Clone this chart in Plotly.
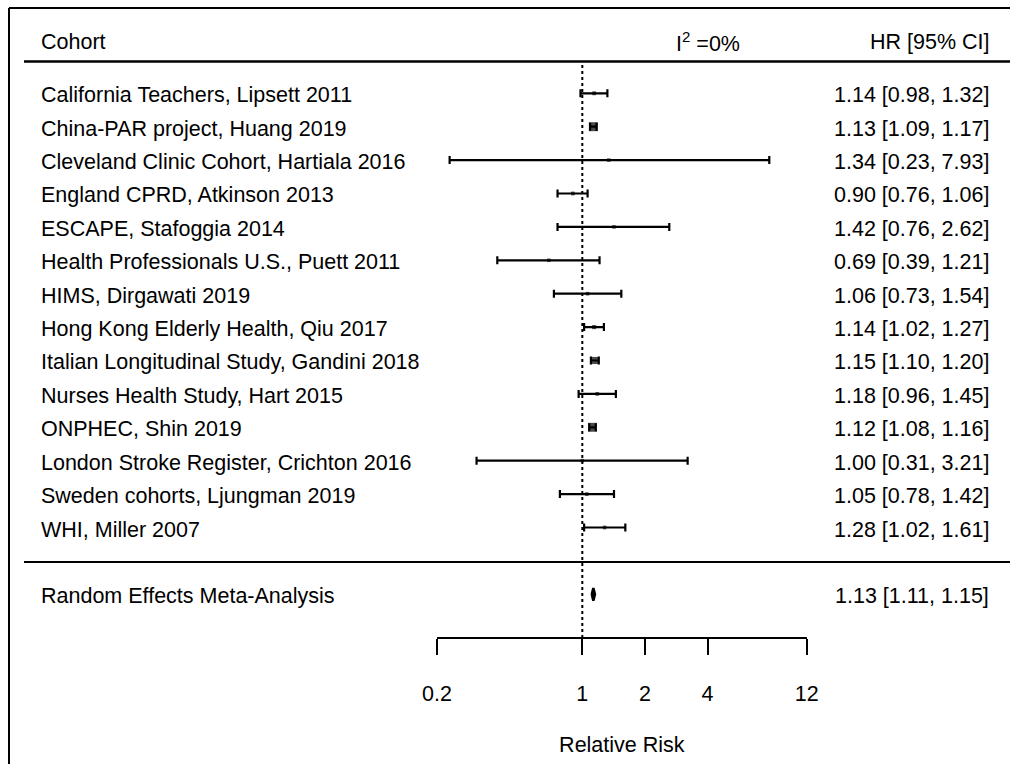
import plotly.graph_objects as go
import numpy as np

cohorts = [
    "California Teachers, Lipsett 2011",
    "China-PAR project, Huang 2019",
    "Cleveland Clinic Cohort, Hartiala 2016",
    "England CPRD, Atkinson 2013",
    "ESCAPE, Stafoggia 2014",
    "Health Professionals U.S., Puett 2011",
    "HIMS, Dirgawati 2019",
    "Hong Kong Elderly Health, Qiu 2017",
    "Italian Longitudinal Study, Gandini 2018",
    "Nurses Health Study, Hart 2015",
    "ONPHEC, Shin 2019",
    "London Stroke Register, Crichton 2016",
    "Sweden cohorts, Ljungman 2019",
    "WHI, Miller 2007",
]
hr = [1.14, 1.13, 1.34, 0.90, 1.42, 0.69, 1.06, 1.14, 1.15, 1.18, 1.12, 1.00, 1.05, 1.28]
lo = [0.98, 1.09, 0.23, 0.76, 0.76, 0.39, 0.73, 1.02, 1.10, 0.96, 1.08, 0.31, 0.78, 1.02]
hi = [1.32, 1.17, 7.93, 1.06, 2.62, 1.21, 1.54, 1.27, 1.20, 1.45, 1.16, 3.21, 1.42, 1.61]
pooled_label = "Random Effects Meta-Analysis"
pooled = [1.13, 1.11, 1.15]
i2_text = "I<sup>2</sup> =0%"
tick_vals = [0.2, 1, 2, 4, 12]
tick_text = ["0.2", "1", "2", "4", "12"]

W, H = 1010, 764
FONT = "Liberation Sans, Arial, sans-serif"
FS = 21.5

n = len(cohorts)
rows = list(range(n + 2, 2, -1))  # 16 .. 3
pooled_row = 1

y_top, y_bot = 18.793, -4.081
x_lo_px, x_hi_px = 437.0, 806.7

# weights -> marker size
se = (np.log(hi) - np.log(lo)) / (2 * 1.96)
w = 1 / se**2
sizes = 3.5 + 5.5 * w / w.max()

fig = go.Figure()

fig.add_trace(go.Scatter(
    x=hr, y=rows, mode="markers",
    marker=dict(symbol="square", size=sizes, color="black", line=dict(width=0)),
    error_x=dict(type="data", symmetric=False,
                 array=[h - e for h, e in zip(hi, hr)],
                 arrayminus=[e - l for e, l in zip(hr, lo)],
                 color="black", thickness=2.2, width=4),
    showlegend=False, hoverinfo="skip",
))

# pooled diamond
dh = 0.19
fig.add_trace(go.Scatter(
    x=[pooled[1], pooled[0], pooled[2], pooled[0], pooled[1]],
    y=[pooled_row, pooled_row + dh, pooled_row, pooled_row - dh, pooled_row],
    mode="lines", fill="toself", fillcolor="black",
    line=dict(color="black", width=2.5), showlegend=False, hoverinfo="skip",
))

ann = []
TXT_DY = -0.06
def txt(x, y, s, xanchor="left", xref="paper"):
    ann.append(dict(x=x, y=y + TXT_DY, xref=xref, yref="y", text=s, showarrow=False,
                    xanchor=xanchor, yanchor="middle",
                    font=dict(family=FONT, size=FS, color="black")))

header_row = 17.6
LX = 39 / W
RX = 991 / W
txt(LX, header_row, "Cohort")
txt(np.log10(4), header_row, i2_text, xanchor="center", xref="x")
txt(RX, header_row, "HR [95% CI]", xanchor="right")
for c, r, e, l, h in zip(cohorts, rows, hr, lo, hi):
    txt(LX, r, c)
    txt(RX, r, f"{e:.2f} [{l:.2f}, {h:.2f}]", xanchor="right")
txt(LX, pooled_row, pooled_label)
txt(RX, pooled_row, f"{pooled[0]:.2f} [{pooled[1]:.2f}, {pooled[2]:.2f}]", xanchor="right")

axis_row = -0.31
shapes = [
    dict(type="line", xref="paper", yref="paper", x0=9 / W, x1=1, y0=1 - 8 / H, y1=1 - 8 / H,
         line=dict(color="black", width=2)),
    dict(type="line", xref="paper", yref="paper", x0=9 / W, x1=9 / W, y0=0, y1=1 - 8 / H,
         line=dict(color="black", width=2)),
    dict(type="line", xref="paper", yref="y", x0=24 / W, x1=1, y0=16.95, y1=16.95,
         line=dict(color="black", width=2.5)),
    dict(type="line", xref="paper", yref="y", x0=24 / W, x1=1, y0=1.97, y1=1.97,
         line=dict(color="black", width=2)),
    dict(type="line", xref="x", yref="y", x0=1, x1=1, y0=axis_row, y1=16.95,
         line=dict(color="black", width=2, dash="dot")),
]

fig.update_layout(
    width=W, height=H, margin=dict(l=0, r=0, t=0, b=0),
    paper_bgcolor="white", plot_bgcolor="white",
    annotations=ann, shapes=shapes,
    font=dict(family=FONT, size=FS, color="black"),
    xaxis=dict(type="log", domain=[x_lo_px / W, x_hi_px / W],
               range=[np.log10(0.2), np.log10(12)],
               anchor="free", position=(axis_row - y_bot) / (y_top - y_bot),
               showline=True, linecolor="black", linewidth=2,
               ticks="outside", ticklen=16, tickwidth=2, tickcolor="black",
               tickvals=tick_vals, ticktext=tick_text, ticklabelstandoff=20,
               showgrid=False, zeroline=False, automargin=False,
               tickfont=dict(family=FONT, size=FS, color="black"),
               title=dict(text="Relative Risk", standoff=31,
                          font=dict(family=FONT, size=FS, color="black"))),
    yaxis=dict(range=[y_bot, y_top], domain=[0, 1], visible=False, fixedrange=True),
)

fig.write_html("out.html")
